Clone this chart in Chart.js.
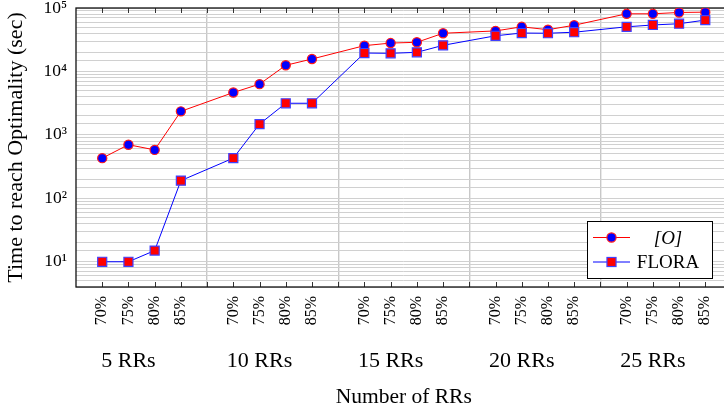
<!DOCTYPE html>
<html><head><meta charset="utf-8">
<script src="https://cdn.jsdelivr.net/npm/chart.js@4/dist/chart.umd.min.js"></script>
<style>html,body{margin:0;padding:0;background:#fff;overflow:hidden;width:724px;height:413px}
canvas{display:block}</style></head>
<body><canvas id="c" width="742" height="413" style="width:742px;height:413px"></canvas>
<script>
const groups = ['5 RRs', '10 RRs', '15 RRs', '20 RRs', '25 RRs'];
const levels = ['70%', '75%', '80%', '85%'];
const oValues = [430, 700, 580, 2350,
                 4650, 6300, 12500, 15700,
                 25500, 28000, 28800, 40000,
                 43500, 50500, 45500, 53500,
                 81000, 81000, 85000, 86000];
const floraValues = [10, 10, 15, 190,
                     430, 1480, 3150, 3150,
                     19500, 19300, 20000, 25800,
                     36500, 40300, 40000, 41500,
                     50500, 54000, 56500, 64500];
const yExponentLabels = ['10⁰', '10¹', '10²', '10³', '10⁴', '10⁵'];
const seriesNames = ['[O]', 'FLORA'];
const xTitle = 'Number of RRs';
const yTitle = 'Time to reach Optimality (sec)';

const SERIF = "'Liberation Serif', 'DejaVu Serif', serif";

// build category table (with empty slots between groups)
const labels = [''];
const oData = [null], fData = [null];
const groupCenterIdx = [];
groups.forEach((g, gi) => {
  levels.forEach((l, li) => {
    if (li === 1) groupCenterIdx.push(labels.length);
    labels.push(l);
    oData.push(oValues[gi * levels.length + li]);
    fData.push(floraValues[gi * levels.length + li]);
  });
  labels.push(''); oData.push(null); fData.push(null);
});
const lastIdx = labels.length - 1;

const framePlugin = {
  id: 'frame',
  beforeDatasetsDraw(chart) {
    const {ctx, chartArea: a} = chart;
    const xs = chart.scales.x;
    ctx.save();
    ctx.strokeStyle = '#333';
    ctx.lineWidth = 1;
    for (let i = 1; i < lastIdx; i++) {
      const px = Math.round(xs.getPixelForValue(i)) + 0.5;
      ctx.beginPath();
      ctx.moveTo(px, a.top); ctx.lineTo(px, a.top + 5);
      ctx.moveTo(px, a.bottom); ctx.lineTo(px, a.bottom - 5);
      ctx.stroke();
    }
    ctx.strokeStyle = '#111';
    ctx.lineWidth = 1.3;
    ctx.strokeRect(a.left, a.top, a.right - a.left, a.bottom - a.top);
    ctx.restore();
  },
  afterDraw(chart) {
    const {ctx, chartArea: a} = chart;
    const xs = chart.scales.x;
    ctx.save();
    // group labels
    ctx.fillStyle = '#000';
    ctx.font = '22px ' + SERIF;
    ctx.textAlign = 'center';
    ctx.textBaseline = 'alphabetic';
    groups.forEach((g, gi) => {
      ctx.fillText(g, xs.getPixelForValue(groupCenterIdx[gi]), a.bottom + 80);
    });
    // legend
    const bx = a.right - 144.5, by = a.bottom - 66, bw = 125, bh = 57;
    ctx.fillStyle = '#fff';
    ctx.fillRect(bx, by, bw, bh);
    ctx.strokeStyle = '#000';
    ctx.lineWidth = 1;
    ctx.strokeRect(bx + 0.5, by + 0.5, bw, bh);
    const ds = chart.data.datasets;
    const rows = [by + 16.5, by + 41];
    ds.forEach((d, i) => {
      const y = rows[i];
      ctx.strokeStyle = d.borderColor;
      ctx.lineWidth = 1;
      ctx.beginPath(); ctx.moveTo(bx + 6, y); ctx.lineTo(bx + 43, y); ctx.stroke();
      const mx = bx + 24.5;
      ctx.fillStyle = d.pointBackgroundColor;
      ctx.strokeStyle = d.pointBorderColor;
      ctx.lineWidth = d.pointBorderWidth;
      if (d.pointStyle === 'circle') {
        ctx.beginPath(); ctx.arc(mx, y, d.pointRadius, 0, Math.PI * 2);
        ctx.fill(); ctx.stroke();
      } else {
        const s = d.pointRadius * Math.SQRT1_2;
        ctx.fillRect(mx - s, y - s, 2 * s, 2 * s);
        ctx.strokeRect(mx - s, y - s, 2 * s, 2 * s);
      }
      ctx.fillStyle = '#000';
      ctx.font = (i === 0 ? 'italic ' : '') + '19px ' + SERIF;
      ctx.textAlign = 'center';
      ctx.textBaseline = 'middle';
      ctx.fillText(d.label, bx + 81, y + 1);
    });
    ctx.restore();
  }
};

new Chart(document.getElementById('c'), {
  type: 'line',
  data: {
    labels: labels,
    datasets: [
      {
        label: seriesNames[0], data: oData, spanGaps: true, order: 2,
        borderColor: '#ff0000', borderWidth: 1, tension: 0,
        pointStyle: 'circle', pointRadius: 4.6, pointBorderWidth: 1.2,
        pointBackgroundColor: '#0000ff', pointBorderColor: '#ff1a1a'
      },
      {
        label: seriesNames[1], data: fData, spanGaps: true, order: 1,
        borderColor: '#0000ff', borderWidth: 1, tension: 0,
        pointStyle: 'rect', pointRadius: 6.4, pointBorderWidth: 1.2,
        pointBackgroundColor: '#ff0000', pointBorderColor: '#4040ff'
      }
    ]
  },
  options: {
    responsive: false,
    animation: false,
    layout: {padding: {left: 0, top: 8, right: 10.5, bottom: 0}},
    plugins: {legend: {display: false}, tooltip: {enabled: false}},
    scales: {
      x: {
        type: 'category', offset: false,
        border: {display: false},
        grid: {
          offset: false, drawTicks: false, lineWidth: 1.4,
          color: (c) => (c.index > 0 && c.index < lastIdx && labels[c.index] === '') ? '#c8c8c8' : 'rgba(0,0,0,0)'
        },
        ticks: {autoSkip: false, maxRotation: 90, minRotation: 90, padding: 9, color: '#000',
                font: {family: SERIF, size: 16}},
        title: {display: true, text: xTitle, color: '#000', font: {family: SERIF, size: 21.5},
                padding: {top: 0, bottom: 3}},
        afterFit(s) { s.height = 126; s.paddingLeft = 0; s.paddingRight = 0; }
      },
      y: {
        type: 'logarithmic', min: 4, max: 100000,
        border: {display: false},
        grid: {drawTicks: false, color: '#d0d0d0', lineWidth: 1},
        ticks: {
          autoSkip: false, padding: 9, color: '#000', font: {family: SERIF, size: 17.5},
          callback: (v) => {
            const e = Math.log10(v);
            return Math.abs(e - Math.round(e)) < 1e-6 ? yExponentLabels[Math.round(e)] : '';
          }
        },
        title: {display: true, text: yTitle, color: '#000', font: {family: SERIF, size: 22},
                padding: {top: 3, bottom: 0}},
        afterFit(s) { s.width = 76; s.paddingTop = 0; s.paddingBottom = 0; }
      }
    }
  },
  plugins: [framePlugin]
});
</script>
</body></html>
